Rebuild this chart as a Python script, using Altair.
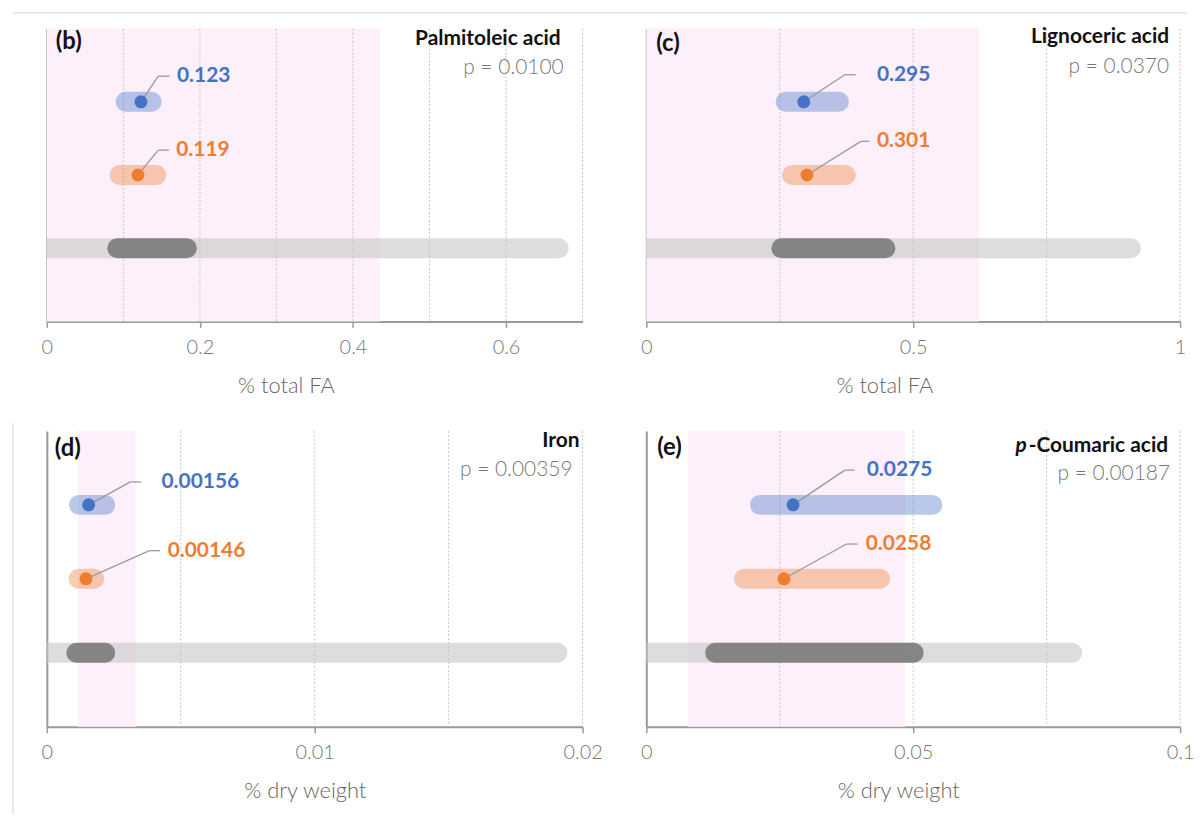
import altair as alt
import pandas as pd

# ---------------- data ----------------
panel_ids = ["(b)", "(c)", "(d)", "(e)"]
compounds = ["Palmitoleic acid", "Lignoceric acid", "Iron", "p-Coumaric acid"]
p_values = ["p = 0.0100", "p = 0.0370", "p = 0.00359", "p = 0.00187"]
units = ["% total FA", "% total FA", "% dry weight", "% dry weight"]
axis_max = [0.7, 1.0, 0.02, 0.1]
tick_values = [[0, 0.2, 0.4, 0.6], [0, 0.5, 1], [0, 0.01, 0.02], [0, 0.05, 0.1]]
grid_values = [
    [0.1, 0.2, 0.3, 0.4, 0.5, 0.6, 0.7],
    [0.25, 0.5, 0.75, 1.0],
    [0.005, 0.01, 0.015, 0.02],
    [0.025, 0.05, 0.075, 0.1],
]
pink_lo = [0.0, 0.0, 0.00117, 0.0078]
pink_hi = [0.435, 0.623, 0.00332, 0.0485]

blue_mean = [0.123, 0.295, 0.00156, 0.0275]
blue_lo = [0.103, 0.261, 0.00120, 0.0213]
blue_hi = [0.137, 0.361, 0.00218, 0.0536]
orange_mean = [0.119, 0.301, 0.00146, 0.0258]
orange_lo = [0.095, 0.273, 0.00118, 0.0183]
orange_hi = [0.143, 0.374, 0.00177, 0.0438]
range_lo = [0.0, 0.0, 0.0, 0.0]
range_hi = [0.669, 0.908, 0.01906, 0.0798]
iqr_lo = [0.092, 0.253, 0.0011, 0.0129]
iqr_hi = [0.183, 0.448, 0.00218, 0.0501]

# annotation anchors (data units on x, row units on y)
blue_label_x = [0.170, 0.432, 0.00428, 0.0413]
orange_label_x = [0.169, 0.432, 0.00451, 0.0411]
blue_label_y = [0.65, 0.63, 0.69, 0.53]
orange_label_y = [1.66, 1.54, 1.62, 1.53]
blue_elbow = [0.1456, 0.372, 0.00312, 0.0372]
orange_elbow = [0.1456, 0.402, 0.00383, 0.0375]
blue_end = [0.1606, 0.392, 0.00352, 0.0390]
orange_end = [0.1596, 0.418, 0.00423, 0.0396]

# ---------------- styling / layout ----------------
BLUE = "#4472C4"
ORANGE = "#ED7D31"
widths = [538, 536, 538, 536]
heights = [294, 294, 297, 297]
id_pos = [(9, 13), (10, 15), (8, 18), (11, 17)]
title_pos = [(22, 10), (11, 8), (3, 10), (12, 15)]
p_pos = [(19, 40), (11, 39), (10, 39), (10, 43)]
title_x = [240, 239, 259, 253]
FONT = "Lato"


def panel(i):
    W, H = widths[i], heights[i]
    xscale = alt.Scale(domain=[0, axis_max[i]], nice=False, zero=True)
    xaxis = alt.Axis(
        values=tick_values[i], format="~g", title=units[i], grid=False,
        labelFlush=False, titleX=title_x[i], titleY=64, titleBaseline="middle",
        titleAlign="center",
    )
    yscale = alt.Scale(domain=[0, 4], reverse=True, nice=False, zero=False)
    yaxis = alt.Axis(labels=False, ticks=False, grid=False, title=None, domain=True)

    def X(f):
        return alt.X(f, type="quantitative", scale=xscale, axis=xaxis)

    def Y(f):
        return alt.Y(f, type="quantitative", scale=yscale, axis=yaxis)

    one = pd.DataFrame({"k": [0]})
    band = pd.DataFrame({"lo": [pink_lo[i]], "hi": [pink_hi[i]]})
    grid = pd.DataFrame({"g": grid_values[i]})
    summary = pd.DataFrame({
        "row": [3], "rlo": [range_lo[i]], "rhi": [range_hi[i]],
        "qlo": [iqr_lo[i]], "qhi": [iqr_hi[i]],
    })
    groups = pd.DataFrame({
        "grp": ["blue", "orange"],
        "row": [1, 2],
        "lo": [blue_lo[i], orange_lo[i]],
        "hi": [blue_hi[i], orange_hi[i]],
        "mean": [blue_mean[i], orange_mean[i]],
        "label": [f"{blue_mean[i]:g}", f"{orange_mean[i]:g}"],
        "lx": [blue_label_x[i], orange_label_x[i]],
        "ly": [blue_label_y[i], orange_label_y[i]],
        "ex": [blue_elbow[i], orange_elbow[i]],
        "ee": [blue_end[i], orange_end[i]],
    })
    color = alt.Color("grp:N", scale=alt.Scale(domain=["blue", "orange"], range=[BLUE, ORANGE]), legend=None)

    layers = []
    layers.append(alt.Chart(band).mark_rect(color="#fdf0fa").encode(
        x=X("lo"), x2="hi", y=alt.value(0), y2=alt.value(H)))
    layers.append(alt.Chart(grid).mark_rule(color="#c4c4c4", strokeDash=[2, 2], strokeWidth=1).encode(
        x=X("g"), y=alt.value(0), y2=alt.value(H)))
    layers.append(alt.Chart(summary).mark_rule(color="#c6c6c6", opacity=0.6, strokeWidth=20,
                                               strokeCap="round", clip=True).encode(
        x=X("rlo"), x2="rhi", y=Y("row")))
    layers.append(alt.Chart(summary).mark_rule(color="#7f7f7f", opacity=0.95, strokeWidth=20,
                                               strokeCap="round").encode(
        x=X("qlo"), x2="qhi", y=Y("row")))
    layers.append(alt.Chart(groups).mark_rule(opacity=0.38, strokeWidth=20, strokeCap="round").encode(
        x=X("lo"), x2="hi", y=Y("row"), color=color))
    layers.append(alt.Chart(groups).mark_rule(color="#9a9a9a", strokeWidth=1.3).encode(
        x=X("mean"), x2="ex", y=Y("row"), y2="ly"))
    layers.append(alt.Chart(groups).mark_rule(color="#9a9a9a", strokeWidth=1.3).encode(
        x=X("ex"), x2="ee", y=Y("ly")))
    layers.append(alt.Chart(groups).mark_circle(size=170, opacity=1).encode(
        x=X("mean"), y=Y("row"), color=color))
    layers.append(alt.Chart(groups).mark_text(align="left", baseline="middle", font=FONT,
                                              fontWeight="bold", fontSize=21).encode(
        x=X("lx"), y=Y("ly"), text="label:N", color=color))
    # panel letter
    layers.append(alt.Chart(one).mark_text(text=panel_ids[i], align="left", baseline="middle",
                                           font=FONT, fontWeight="bold", fontSize=24, color="#111").encode(
        x=alt.value(id_pos[i][0]), y=alt.value(id_pos[i][1])))
    # compound title
    name = compounds[i]
    if name.startswith("p-"):
        rest = name[1:]
        layers.append(alt.Chart(one).mark_text(text=rest, align="right", baseline="middle",
                                               font=FONT, fontWeight="bold", fontSize=21, color="#111").encode(
            x=alt.value(W - title_pos[i][0]), y=alt.value(title_pos[i][1])))
        layers.append(alt.Chart(one).mark_text(text="p", align="right", baseline="middle",
                                               font=FONT, fontWeight="bold", fontStyle="italic",
                                               fontSize=21, color="#111", dx=-142).encode(
            x=alt.value(W - title_pos[i][0]), y=alt.value(title_pos[i][1])))
    else:
        layers.append(alt.Chart(one).mark_text(text=name, align="right", baseline="middle",
                                               font=FONT, fontWeight="bold", fontSize=21, color="#111").encode(
            x=alt.value(W - title_pos[i][0]), y=alt.value(title_pos[i][1])))
    layers.append(alt.Chart(one).mark_text(text=p_values[i], align="right", baseline="middle",
                                           font=FONT, fontWeight=300, fontSize=21, color="#777").encode(
        x=alt.value(W - p_pos[i][0]), y=alt.value(p_pos[i][1])))
    # faint frame lines from the source figure
    if i == 0:
        layers.append(alt.Chart(one).mark_rule(color="#e2e2e2", strokeWidth=1.5).encode(
            x=alt.value(-34), x2=alt.value(1145), y=alt.value(-16)))
    if i == 2:
        layers.append(alt.Chart(one).mark_rule(color="#e2e2e2", strokeWidth=1.5).encode(
            x=alt.value(-34), y=alt.value(-8), y2=alt.value(385)))
    return alt.layer(*layers).properties(width=W, height=H)


chart = alt.concat(
    panel(0), panel(1), panel(2), panel(3),
    columns=2, spacing={"row": 110, "column": 64}, bounds="flush",
).properties(
    padding={"left": 4, "top": 2, "right": 0, "bottom": 0}
).configure_view(stroke=None).configure_axis(
    labelFont=FONT, labelFontSize=20, labelFontWeight=300, labelColor="#777",
    titleFont=FONT, titleFontSize=22, titleFontWeight=300, titleColor="#666",
    domainColor="#9a9a9a", domainWidth=2, tickColor="#9a9a9a", tickSize=6, tickWidth=1.5,
    labelPadding=10,
)

chart.save("out.html", embed_options={"renderer": "svg", "actions": False})
